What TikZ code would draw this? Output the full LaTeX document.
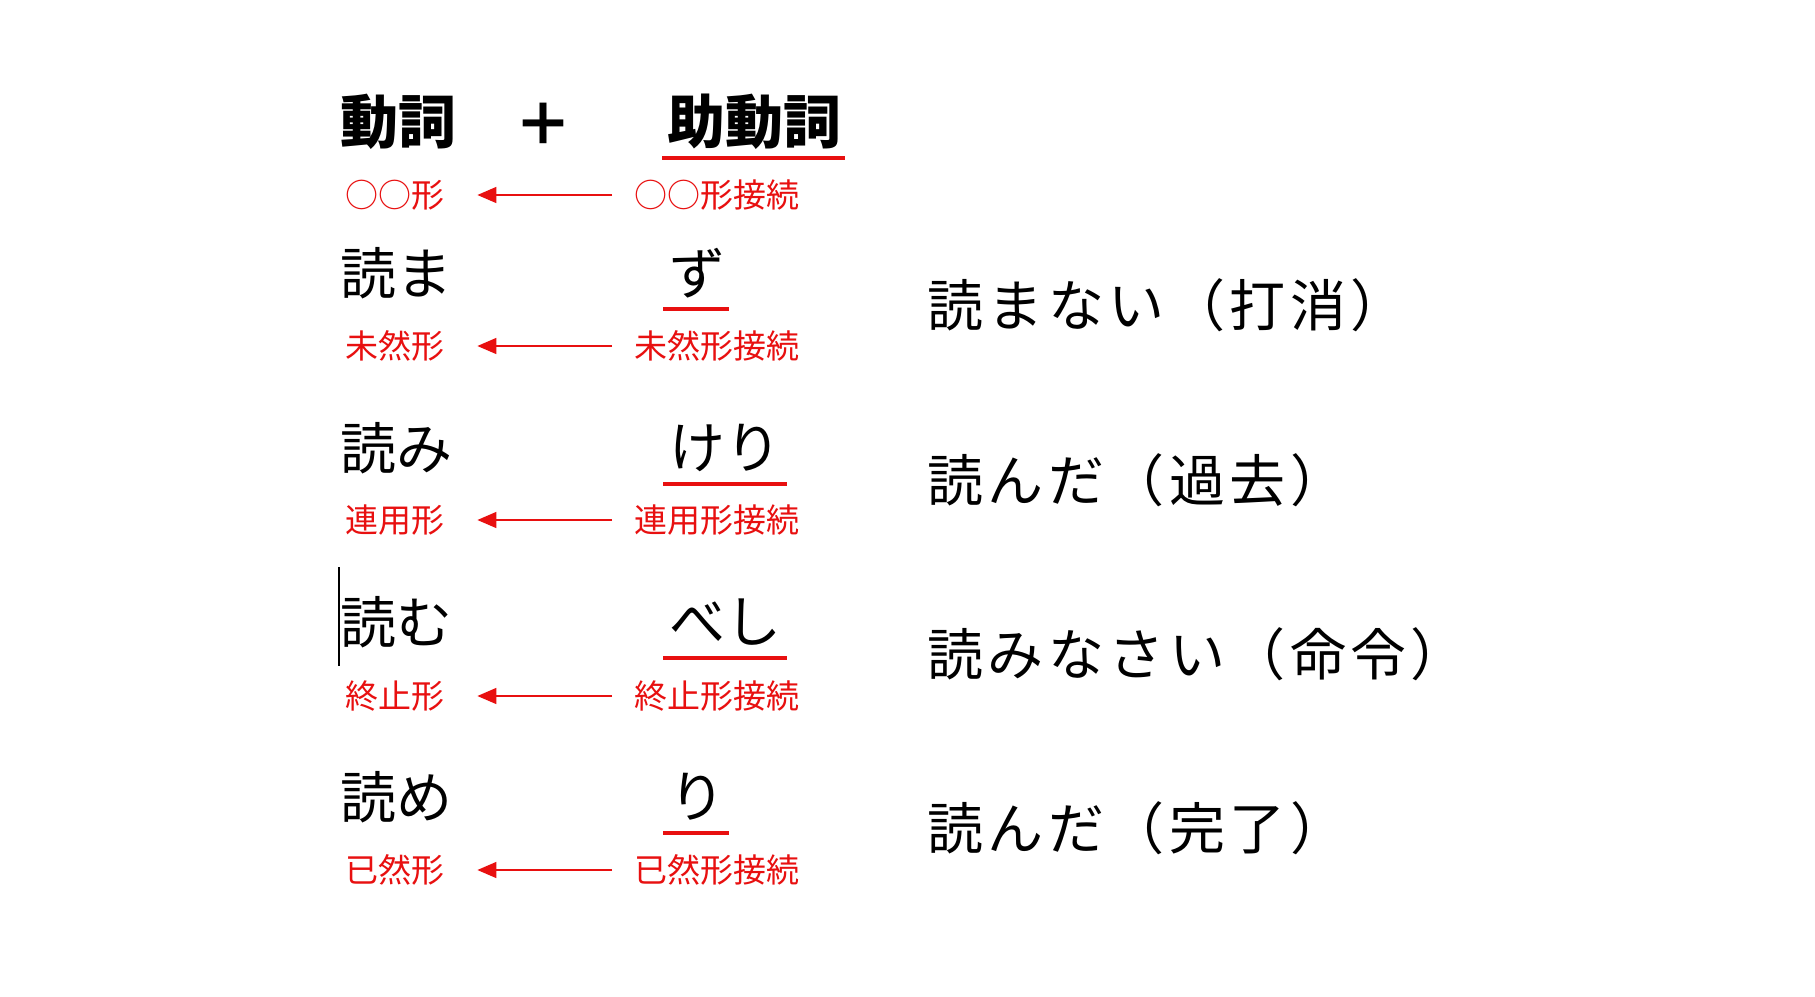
\documentclass[tikz,border=0pt]{standalone}
\usepackage{fontspec}
\setmainfont{Noto Sans CJK JP}
\usetikzlibrary{arrows.meta}
\definecolor{jred}{RGB}{232,16,16}
\tikzset{
  big/.style={inner sep=0pt, anchor=west, font=\fontsize{56}{60}\selectfont},
  wide/.style={inner sep=0pt, anchor=west, font=\fontsize{56}{60}\selectfont\addfontfeature{LetterSpace=8}},
  head/.style={inner sep=0pt, font=\fontsize{58}{62}\selectfont\bfseries},
  lab/.style={inner sep=0pt, anchor=west, text=jred, font=\fontsize{33}{36}\selectfont},
  uline/.style={draw=jred, line width=4pt},
  arr/.style={draw=jred, line width=1.5pt, -{Triangle[length=19pt,width=16pt]}, shorten <=22pt, shorten >=33pt},
}
\begin{document}
\begin{tikzpicture}[x=1pt,y=-1pt]
\useasboundingbox[fill=white] (0,0) rectangle (1815,996);

% header
\node[head,anchor=west] (v0) at (340,122) {動詞};
\node[head] (plus) at (543,124) {＋};
\node[head,anchor=west] (a0) at (667,122) {助動詞};
\draw[uline] ([xshift=-5pt,yshift=-36pt]a0.west) -- ([xshift=4pt,yshift=-36pt]a0.east);
\node[lab] (lv0) at (345,195) {○○形};
\node[lab] (la0) at (634,195) {○○形接続};
\draw[arr] (la0.west) -- (lv0.east);

% row 1
\node[big] (v1) at (340,273) {読ま};
\node[big] (a1) at (669,273) {ず};
\draw[uline] ([xshift=-6pt,yshift=-36pt]a1.west) -- ([xshift=4pt,yshift=-36pt]a1.east);
\node[lab] (lv1) at (345,346) {未然形};
\node[lab] (la1) at (634,346) {未然形接続};
\draw[arr] (la1.west) -- (lv1.east);
\node[wide] (r1) at (927,305) {読まない（打消）};

% row 2
\node[big] (v2) at (340,448) {読み};
\node[big] (a2) at (669,448) {けり};
\draw[uline] ([xshift=-6pt,yshift=-36pt]a2.west) -- ([xshift=6pt,yshift=-36pt]a2.east);
\node[lab] (lv2) at (345,520) {連用形};
\node[lab] (la2) at (634,520) {連用形接続};
\draw[arr] (la2.west) -- (lv2.east);
\node[wide] (r2) at (927,480) {読んだ（過去）};

% row 3
\node[big] (v3) at (340,622) {読む};
\node[big] (a3) at (669,622) {べし};
\draw[uline] ([xshift=-6pt,yshift=-36pt]a3.west) -- ([xshift=6pt,yshift=-36pt]a3.east);
\node[lab] (lv3) at (345,696) {終止形};
\node[lab] (la3) at (634,696) {終止形接続};
\draw[arr] (la3.west) -- (lv3.east);
\node[wide] (r3) at (927,654) {読みなさい（命令）};
\draw[line width=1.2pt] (339,567) -- (339,666);

% row 4
\node[big] (v4) at (340,797) {読め};
\node[big] (a4) at (669,797) {り};
\draw[uline] ([xshift=-6pt,yshift=-36pt]a4.west) -- ([xshift=4pt,yshift=-36pt]a4.east);
\node[lab] (lv4) at (345,870) {已然形};
\node[lab] (la4) at (634,870) {已然形接続};
\draw[arr] (la4.west) -- (lv4.east);
\node[wide] (r4) at (927,828) {読んだ（完了）};
\end{tikzpicture}
\end{document}
